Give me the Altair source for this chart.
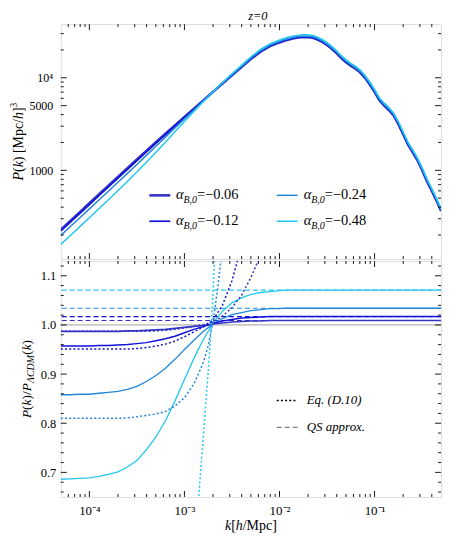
import altair as alt
import pandas as pd

# ---------------- data ----------------
LOG_K = [-4.3, -4.2, -4.1, -4.0, -3.9, -3.8, -3.7, -3.6, -3.5, -3.4, -3.3, -3.2,
         -3.1, -3.0, -2.9, -2.8, -2.7, -2.6, -2.5, -2.4, -2.3, -2.2, -2.1, -2.0,
         -1.95, -1.9, -1.85, -1.8, -1.75, -1.7, -1.65, -1.6, -1.55, -1.5,
         -1.45, -1.4, -1.35, -1.3, -1.25, -1.2, -1.15, -1.1, -1.05, -1.0,
         -0.95, -0.9, -0.85, -0.8, -0.75, -0.7, -0.65, -0.6, -0.55, -0.5,
         -0.45, -0.4, -0.35, -0.3]

P_LCDM = [231, 288, 358, 446, 555, 690, 858, 1066, 1323, 1640, 2030, 2505,
          3085, 3785, 4640, 5710, 7030, 8640, 10600, 12950, 15900, 19000, 21800, 23900,
          24900, 25750, 26450, 27000, 27300, 27250, 26800, 25700, 24200, 22400,
          20400, 18300, 16200, 14600, 13400, 12400, 11300, 9900, 8400, 7000,
          5700, 5000, 4450, 3900, 3150, 2450, 1900, 1560, 1280, 1000,
          760, 600, 470, 360]

SERIES = ["-0.06", "-0.12", "-0.24", "-0.48"]

RATIO_006 = [0.987, 0.987, 0.987, 0.987, 0.987, 0.987, 0.987, 0.988, 0.988, 0.989, 0.990, 0.991,
             0.993, 0.995, 0.997, 0.999, 1.002, 1.004, 1.006, 1.007, 1.008, 1.008, 1.009, 1.009,
             1.009, 1.009, 1.009, 1.009, 1.009, 1.009, 1.009, 1.009, 1.009, 1.009,
             1.009, 1.009, 1.009, 1.009, 1.009, 1.009, 1.009, 1.009, 1.009, 1.009,
             1.009, 1.009, 1.009, 1.009, 1.009, 1.009, 1.009, 1.009, 1.009, 1.009,
             1.009, 1.009, 1.009, 1.009]
RATIO_012 = [0.957, 0.957, 0.957, 0.957, 0.958, 0.958, 0.959, 0.960, 0.962, 0.964, 0.968, 0.972,
             0.977, 0.984, 0.991, 0.997, 1.003, 1.008, 1.011, 1.014, 1.015, 1.016, 1.017, 1.017,
             1.017, 1.017, 1.017, 1.017, 1.017, 1.017, 1.017, 1.017, 1.017, 1.017,
             1.017, 1.017, 1.017, 1.017, 1.017, 1.017, 1.017, 1.017, 1.017, 1.017,
             1.017, 1.017, 1.017, 1.017, 1.017, 1.017, 1.017, 1.017, 1.017, 1.017,
             1.017, 1.017, 1.017, 1.017]
RATIO_024 = [0.858, 0.858, 0.859, 0.859, 0.861, 0.863, 0.865, 0.869, 0.875, 0.885, 0.897, 0.912,
             0.930, 0.950, 0.969, 0.987, 1.002, 1.013, 1.021, 1.025, 1.029, 1.031, 1.033, 1.033,
             1.034, 1.034, 1.034, 1.034, 1.034, 1.034, 1.034, 1.034, 1.034, 1.034,
             1.034, 1.034, 1.034, 1.034, 1.034, 1.034, 1.034, 1.034, 1.034, 1.034,
             1.034, 1.034, 1.034, 1.034, 1.034, 1.034, 1.034, 1.034, 1.034, 1.034,
             1.034, 1.034, 1.034, 1.034]
RATIO_048 = [0.686, 0.687, 0.688, 0.689, 0.692, 0.696, 0.701, 0.711, 0.724, 0.746, 0.772, 0.805,
             0.845, 0.889, 0.932, 0.971, 1.003, 1.028, 1.045, 1.055, 1.062, 1.066, 1.068, 1.070,
             1.071, 1.071, 1.071, 1.071, 1.071, 1.071, 1.071, 1.071, 1.071, 1.071,
             1.071, 1.071, 1.071, 1.071, 1.071, 1.071, 1.071, 1.071, 1.071, 1.071,
             1.071, 1.071, 1.071, 1.071, 1.071, 1.071, 1.071, 1.071, 1.071, 1.071,
             1.071, 1.071, 1.071, 1.071]

# Eq. (D.10) curves (dotted)
DOT_006_LOGK = [-4.3, -3.4, -3.3, -3.2, -3.1, -3.0, -2.9, -2.8, -2.7, -2.6, -2.5, -2.4, -2.3, -2.2, -2.1]
DOT_006 = [0.987, 0.987, 0.988, 0.989, 0.991, 0.994, 0.997, 1.001, 1.006, 1.018, 1.035, 1.060, 1.097, 1.142, 1.200]
DOT_012_LOGK = [-4.3, -3.6, -3.5, -3.4, -3.3, -3.2, -3.1, -3.0, -2.9, -2.8, -2.7, -2.6, -2.5, -2.45, -2.4]
DOT_012 = [0.951, 0.951, 0.952, 0.954, 0.957, 0.961, 0.967, 0.976, 0.986, 0.996, 1.010, 1.040, 1.090, 1.125, 1.165]
DOT_024_LOGK = [-4.3, -3.7, -3.6, -3.5, -3.4, -3.3, -3.2, -3.1, -3.0, -2.9, -2.8, -2.75, -2.7, -2.65, -2.6, -2.55]
DOT_024 = [0.810, 0.810, 0.811, 0.813, 0.816, 0.819, 0.824, 0.835, 0.852, 0.880, 0.924, 0.958, 1.006, 1.075, 1.160, 1.280]
DOT_048_LOGK = [-3.0, -2.95, -2.9, -2.85, -2.8, -2.75, -2.72, -2.7, -2.68, -2.66]
DOT_048 = [0.33, 0.43, 0.53, 0.65, 0.775, 0.905, 0.99, 1.06, 1.15, 1.25]

# QS approx. levels (dashed)
QS_LEVELS = [1.009, 1.017, 1.034, 1.071]
REF_LEVEL = 1.0

# tick positions
X_MAJOR = [1e-4, 1e-3, 1e-2, 1e-1]
X_MINOR = [6e-5, 7e-5, 8e-5, 9e-5,
           2e-4, 3e-4, 4e-4, 5e-4, 6e-4, 7e-4, 8e-4, 9e-4,
           2e-3, 3e-3, 4e-3, 5e-3, 6e-3, 7e-3, 8e-3, 9e-3,
           2e-2, 3e-2, 4e-2, 5e-2, 6e-2, 7e-2, 8e-2, 9e-2,
           2e-1, 3e-1, 4e-1]
P_MAJOR = [1000, 5000, 10000]
P_MINOR = [200, 300, 400, 500, 600, 700, 800, 900, 2000, 3000, 4000,
           6000, 7000, 8000, 9000, 20000, 30000]
R_MAJOR = [0.7, 0.8, 0.9, 1.0, 1.1]
R_MINOR = [0.66, 0.68, 0.72, 0.74, 0.76, 0.78, 0.82, 0.84, 0.86, 0.88,
           0.92, 0.94, 0.96, 0.98, 1.02, 1.04, 1.06, 1.08, 1.12]

LEGEND_VALUES = ["−0.06", "−0.12", "−0.24", "−0.48"]

# ---------------- styling ----------------
FONT = "Liberation Serif"
COL = {"-0.06": "#3434c4", "-0.12": "#1212dc", "-0.24": "#2386da", "-0.48": "#22c8f0"}
TOPW = {"-0.06": 2.6, "-0.12": 1.7, "-0.24": 1.5, "-0.48": 1.5}
BOTW = {"-0.06": 1.6, "-0.12": 1.5, "-0.24": 1.3, "-0.48": 1.3}
W, H1, H2 = 382, 236, 237

XS = alt.Scale(type="log", domain=[5e-5, 0.5], nice=False)
YS1 = alt.Scale(type="log", domain=[110, 38000], nice=False)
YS2 = alt.Scale(domain=[0.65, 1.13], nice=False, zero=False)

YAX1 = alt.Axis(values=P_MAJOR, labelExpr="datum.value > 9000 ? '10⁴' : format(datum.value, 'd')",
                ticks=False, domain=False, grid=False, title=None, labelFontSize=12,
                labelPadding=8, labelFont=FONT, labelColor="black")
YAX2 = alt.Axis(values=R_MAJOR, format=".1f", ticks=False, domain=False, grid=False, title=None,
                labelFontSize=12.5, labelPadding=5, labelFont=FONT, labelColor="black")
XAX2 = alt.Axis(values=X_MAJOR,
                labelExpr="datum.value < 5e-4 ? '10⁻⁴' : datum.value < 5e-3 ? '10⁻³' : datum.value < 5e-2 ? '10⁻²' : '10⁻¹'",
                ticks=False, domain=False, grid=False, title=None, labelFontSize=13,
                labelPadding=8, labelFont=FONT, labelColor="black", labelFlush=False)

REG = {'.': .25, ',': .25, '(': .333, ')': .333, '[': .333, ']': .333, '/': .278, ' ': .25,
       '=': .564, '−': .564, 'M': .889, 'p': .5, 'c': .444, 'a': .444, 'r': .333, 'o': .5,
       'x': .5, 'S': .556, 'Q': .722, 'E': .611, 'q': .5, 'D': .722, 'B': .667, 'C': .667,
       'Λ': .722}
ITA = {'P': .611, 'k': .444, 'h': .5, 'α': .52, 'B': .611, 'Λ': .611, 'C': .667, 'D': .722,
       'M': .833, 'E': .611, 'Q': .722, 'S': .5, 'a': .5, 'p': .5, 'r': .389, 'o': .5,
       'x': .444, 'q': .5, 'z': .389, '=': .675}


def text_width(s, size, italic):
    tot = 0.0
    for ch in s:
        if italic and ch in ITA:
            tot += ITA[ch]
        else:
            tot += REG.get(ch, 0.5)
    return tot * size


ONE = pd.DataFrame({"a": [1]})


def text_mark(text, x, y, size, italic=False, angle=0, align="left"):
    return alt.Chart(ONE).mark_text(
        text=text, font=FONT, fontSize=size, fontStyle="italic" if italic else "normal",
        align=align, baseline="alphabetic", angle=angle, color="black"
    ).encode(x=alt.value(x), y=alt.value(y))


def segments(segs, x0, y0, rotate=False, center=False):
    total = sum(text_width(t, s, i) for t, s, i, _ in segs)
    out = []
    pos = 0.0
    if rotate:
        start = y0 + total / 2 if center else y0
    else:
        start = x0 - total / 2 if center else x0
    for t, s, i, shift in segs:
        if rotate:
            out.append(text_mark(t, x0 + shift, start - pos, s, i, angle=270))
        else:
            out.append(text_mark(t, start + pos, y0 + shift, s, i))
        pos += text_width(t, s, i)
    return out


def rule_seg(x1, x2, y, color, width, dash=None):
    kw = dict(color=color, strokeWidth=width)
    if dash:
        kw["strokeDash"] = dash
    return alt.Chart(ONE).mark_rule(**kw).encode(x=alt.value(x1), x2=alt.value(x2), y=alt.value(y))


def x_ticks(vals, length, height, scale, axis):
    df = pd.DataFrame({"k": vals})
    base = alt.Chart(df).mark_rule(color="black", strokeWidth=0.9)
    return [base.encode(x=alt.X("k:Q", scale=scale, axis=axis), y=alt.value(0), y2=alt.value(length)),
            base.encode(x=alt.X("k:Q", scale=scale, axis=axis), y=alt.value(height), y2=alt.value(height - length))]


def y_ticks(vals, length, field, scale, axis):
    df = pd.DataFrame({field: vals})
    base = alt.Chart(df).mark_rule(color="black", strokeWidth=0.9)
    return [base.encode(y=alt.Y(f"{field}:Q", scale=scale, axis=axis), x=alt.value(0), x2=alt.value(length)),
            base.encode(y=alt.Y(f"{field}:Q", scale=scale, axis=axis), x=alt.value(W), x2=alt.value(W - length))]


KS = [10 ** v for v in LOG_K]
RATIOS = {"-0.06": RATIO_006, "-0.12": RATIO_012, "-0.24": RATIO_024, "-0.48": RATIO_048}
DOTS = {"-0.06": (DOT_006_LOGK, DOT_006), "-0.12": (DOT_012_LOGK, DOT_012),
        "-0.24": (DOT_024_LOGK, DOT_024), "-0.48": (DOT_048_LOGK, DOT_048)}

# ---------------- top panel ----------------
top_layers = []
for s in SERIES:
    df = pd.DataFrame({"k": KS, "P": [p * r for p, r in zip(P_LCDM, RATIOS[s])]})
    top_layers.append(alt.Chart(df).mark_line(color=COL[s], strokeWidth=TOPW[s], clip=True).encode(
        x=alt.X("k:Q", scale=XS, axis=None), y=alt.Y("P:Q", scale=YS1, axis=YAX1)))
top_layers += x_ticks(X_MAJOR, 6, H1, XS, None) + x_ticks(X_MINOR, 3, H1, XS, None)
top_layers += y_ticks(P_MAJOR, 6, "P", YS1, YAX1) + y_ticks(P_MINOR, 3, "P", YS1, YAX1)

# legend (2 x 2)
leg_pos = [(89, 110, 172, 115.7, 176), (89, 110, 198, 115.7, 202),
           (217, 238, 172, 244, 176), (217, 238, 198, 244, 202)]
for s, lab, (sx1, sx2, sy, tx, ty) in zip(SERIES, LEGEND_VALUES, leg_pos):
    top_layers.append(rule_seg(sx1, sx2, sy, COL[s], TOPW[s]))
    top_layers += segments([("α", 14.5, True, 0), ("B,0", 10, True, 3.5), ("=" + lab, 14.5, False, 0)], tx, ty)

# title and y title
top_layers.append(text_mark("z=0", 198, -4, 12.5, True, align="center"))
top_layers += segments([("P", 14, True, 0), ("(", 14, False, 0), ("k", 14, True, 0),
                        (") [Mpc/", 14, False, 0), ("h", 14, True, 0), ("]", 14, False, 0),
                        ("3", 9.5, False, -6)], -38, H1 / 2, rotate=True, center=True)

top = alt.layer(*top_layers).properties(width=W, height=H1)

# ---------------- bottom panel ----------------
bot_layers = []
bot_layers.append(alt.Chart(ONE).mark_rule(color="#b4b4b4", strokeWidth=1.2).encode(
    y=alt.datum(REF_LEVEL, scale=YS2, axis=YAX2)))
for s, lvl in zip(SERIES, QS_LEVELS):
    bot_layers.append(alt.Chart(ONE).mark_rule(color=COL[s], strokeWidth=1.2, strokeDash=[5, 3]).encode(
        y=alt.datum(lvl, scale=YS2, axis=YAX2)))
for s in reversed(SERIES):
    df = pd.DataFrame({"k": KS, "R": RATIOS[s]})
    bot_layers.append(alt.Chart(df).mark_line(color=COL[s], strokeWidth=BOTW[s], clip=True).encode(
        x=alt.X("k:Q", scale=XS, axis=XAX2), y=alt.Y("R:Q", scale=YS2, axis=YAX2)))
for s in SERIES:
    lk, vals = DOTS[s]
    df = pd.DataFrame({"k": [10 ** v for v in lk], "R": vals})
    bot_layers.append(alt.Chart(df).mark_line(color=COL[s], strokeWidth=1.5, strokeDash=[2, 2.2],
                                              clip=True).encode(
        x=alt.X("k:Q", scale=XS, axis=XAX2), y=alt.Y("R:Q", scale=YS2, axis=YAX2)))
bot_layers += x_ticks(X_MAJOR, 6, H2, XS, XAX2) + x_ticks(X_MINOR, 3, H2, XS, XAX2)
bot_layers += y_ticks(R_MAJOR, 6, "R", YS2, YAX2) + y_ticks(R_MINOR, 3, "R", YS2, YAX2)

# legend
bot_layers.append(rule_seg(217, 238, 140, "black", 1.5, [2, 2.2]))
bot_layers.append(rule_seg(217, 238, 167, "#808080", 1.2, [5, 3]))
bot_layers.append(text_mark("Eq. (D.10)", 247, 144, 13, True))
bot_layers.append(text_mark("QS approx.", 247, 171, 13, True))

# axis titles
bot_layers += segments([("k", 14, True, 0), ("[", 14, False, 0), ("h", 14, True, 0), ("/Mpc]", 14, False, 0)],
                       191, 270, center=True)
bot_layers += segments([("P", 13.5, True, 0), ("(", 13.5, False, 0), ("k", 13.5, True, 0),
                        (")/", 13.5, False, 0), ("P", 13.5, True, 0), ("ΛCDM", 10, True, 3),
                        ("(", 13.5, False, 0), ("k", 13.5, True, 0), (")", 13.5, False, 0)],
                       -30, H2 / 2, rotate=True, center=True)

bottom = alt.layer(*bot_layers).properties(width=W, height=H2)

chart = alt.vconcat(top, bottom, spacing=0).resolve_scale(x="independent", y="independent").properties(
    padding={"left": 0, "top": 0, "right": 0, "bottom": 0}
).configure_view(stroke="black", strokeWidth=1).configure_axis(
    labelFont=FONT, labelColor="black"
).configure(background="white")

chart.save("out.html", embed_options={"renderer": "svg", "actions": False})
